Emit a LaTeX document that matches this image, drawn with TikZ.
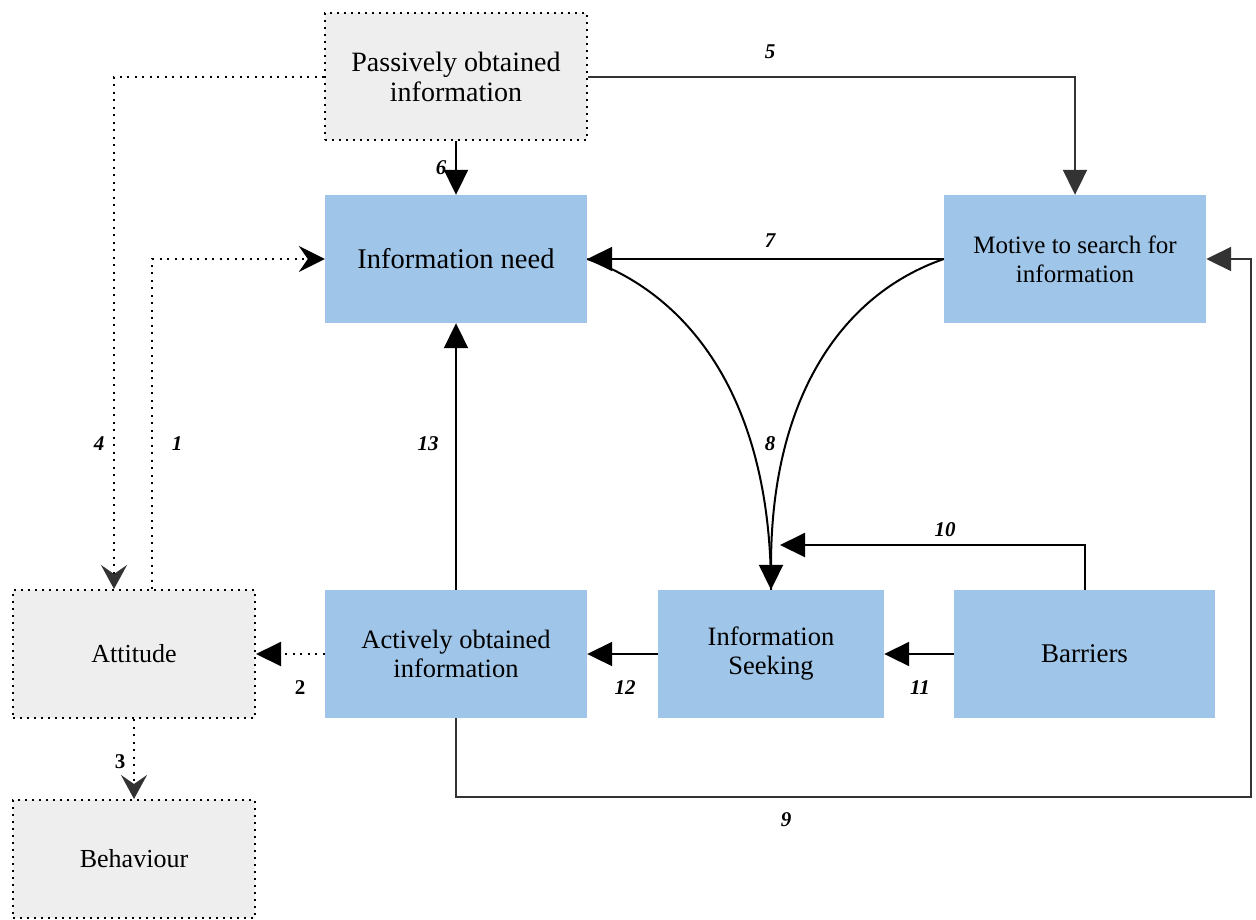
\documentclass[tikz,border=0pt]{standalone}
\usepackage{fontspec}
\setmainfont{Liberation Serif}
\usetikzlibrary{arrows.meta,calc}
\definecolor{boxblue}{HTML}{9FC5E8}
\definecolor{boxgray}{HTML}{EEEEEE}
\definecolor{dgray}{HTML}{333333}
\begin{document}
\begin{tikzpicture}[x=1pt,y=-1pt,
  box/.style={rectangle,inner sep=0pt,align=center,text=black,font=\fontsize{28}{30}\selectfont},
  bluebox/.style={box,fill=boxblue},
  graybox/.style={box,fill=boxgray,draw=black,line width=2pt,dash pattern=on 2pt off 5pt},
  conn/.style={line width=2pt,draw=black},
  dconn/.style={conn,dash pattern=on 2pt off 5.5pt},
  tri/.style={-{Triangle[length=25pt,width=24pt]}},
  gtri/.style={-{Triangle[length=25pt,width=24pt,color=dgray]}},
  gst/.style={-{Stealth[length=24pt,width=26pt,inset=9pt,color=dgray]}},
  bst/.style={-{Stealth[length=26pt,width=26pt,inset=9pt]}},
  num/.style={font=\fontsize{21}{22}\selectfont\bfseries\itshape,inner sep=0pt},
  numu/.style={font=\fontsize{21}{22}\selectfont\bfseries,inner sep=0pt}
]
\useasboundingbox (0,0) rectangle (1256,919);

\node[graybox,minimum width=262pt,minimum height=127pt] (passive) at (456,76.5) {Passively obtained\\information};
\node[bluebox,minimum width=262pt,minimum height=128pt,font=\fontsize{28.5}{30}\selectfont] (need) at (456,259) {Information need};
\node[bluebox,minimum width=262pt,minimum height=128pt,font=\fontsize{25}{29}\selectfont] (motive) at (1075,259) {Motive to search for\\information};
\node[graybox,minimum width=242pt,minimum height=128pt,font=\fontsize{26}{30}\selectfont] (attitude) at (134,654) {Attitude};
\node[graybox,minimum width=242pt,minimum height=118pt,font=\fontsize{26}{30}\selectfont] (behav) at (134,859) {Behaviour};
\node[bluebox,minimum width=262pt,minimum height=128pt,font=\fontsize{26.5}{29}\selectfont] (active) at (456,654) {Actively obtained\\information};
\node[bluebox,minimum width=226pt,minimum height=128pt,font=\fontsize{26.5}{29}\selectfont] (seek) at (771,654) {Information\\Seeking};
\node[bluebox,minimum width=261pt,minimum height=128pt,font=\fontsize{27}{30}\selectfont] (barriers) at (1084.5,654) {Barriers};

\coordinate (c10) at (780,545);
\coordinate (c9a) at (456,797);
\coordinate (c9b) at (1251,797);

% solid connectors
\draw[conn,draw=dgray,gtri] (passive.east) -| (motive.north);
\draw[conn,tri] (passive.south) -- (need.north);
\draw[conn,tri] (motive.west) -- (need.east);
\draw[conn] (need.east) .. controls (690,295) and (771,400) .. (seek.north);
\draw[conn,tri] (motive.west) .. controls (840,295) and (771,400) .. (seek.north);
\draw[conn,tri] (barriers.north) |- (c10);
\draw[conn,tri] (barriers.west) -- (seek.east);
\draw[conn,tri] (seek.west) -- (active.east);
\draw[conn,tri] (active.north) -- (need.south);
\draw[conn,draw=dgray,gtri] (active.south) -- (c9a) -- (c9b) |- (motive.east);

% dotted connectors
\draw[dconn,tri] (active.west) -- (attitude.east);
\draw[dconn,gst] (attitude.south) -- (behav.north);
\draw[dconn,gst] (passive.west) -| ([xshift=-20pt]attitude.north);
\draw[dconn,bst] ([xshift=18pt]attitude.north) |- (need.west);

% labels
\node[num] (l5) at (770,52) {5};
\node[num] (l6) at (441,168) {6};
\node[num] (l7) at (770,241) {7};
\node[num] (l8) at (770,444) {8};
\node[num] (l10) at (945,530) {10};
\node[num] (l11) at (920,688) {11};
\node[num] (l12) at (625,688) {12};
\node[num] (l13) at (428,444) {13};
\node[num] (l9) at (786,820) {9};
\node[numu] (l2) at (300,688) {2};
\node[numu] (l3) at (120,762) {3};
\node[num] (l4) at (99,444) {4};
\node[num] (l1) at (177,444) {1};
\end{tikzpicture}
\end{document}
